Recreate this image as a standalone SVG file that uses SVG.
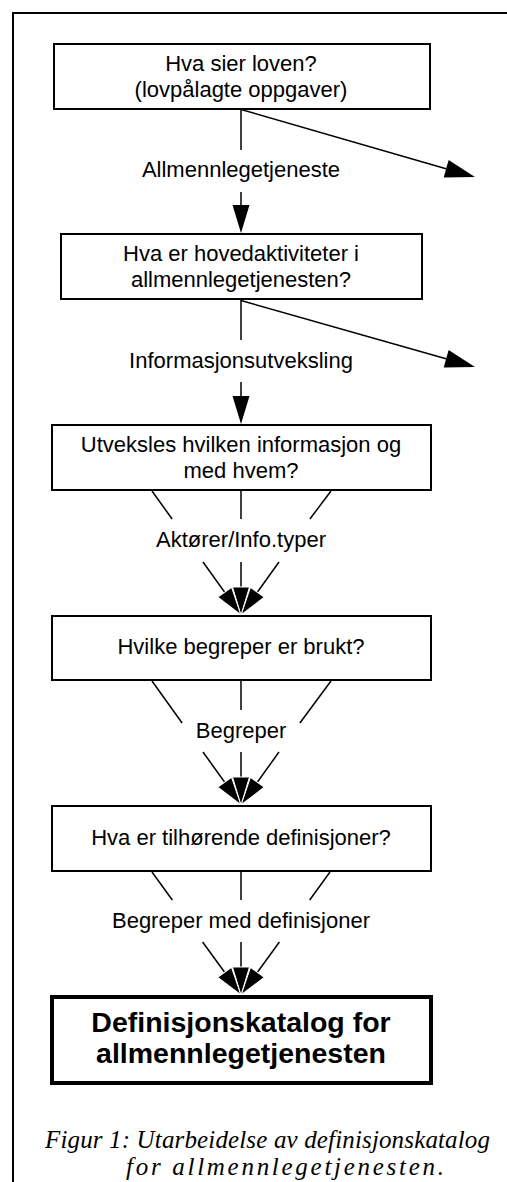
<svg xmlns="http://www.w3.org/2000/svg" xmlns:xlink="http://www.w3.org/1999/xlink" width="507" height="1182" viewBox="0 0 507 1182">
  <style>
    .box { fill: #fff; stroke: #000; stroke-width: 2; }
    .box-final { fill: #fff; stroke: #000; stroke-width: 4; }
    .t { font-family: "Liberation Sans", Arial, Helvetica, sans-serif; font-size: 22px; fill: #000; text-anchor: middle; }
    .tb { font-family: "Liberation Sans", Arial, Helvetica, sans-serif; font-size: 28.5px; font-weight: bold; fill: #000; text-anchor: middle; }
    .cap { font-family: "Liberation Serif", "Times New Roman", serif; font-size: 25px; font-style: italic; fill: #000; }
    .ln { stroke: #000; stroke-width: 1.5; fill: none; }
    .frame { stroke: #000; stroke-width: 2; fill: none; }
    .head { fill: #000; }
    .head-w { fill: #000; stroke: #fff; stroke-width: 1; stroke-linejoin: miter; }
  </style>
  <defs>
    <!-- arrowhead with its tip at the origin, pointing down -->
    <path id="ah" d="M0,0 L-8.5,-28 L8.5,-28 Z"/>
    <path id="ahl" d="M0,0 L-9,-30 L9,-30 Z"/>
  </defs>

  <!-- outer frame, open to the right and bottom -->
  <path class="frame" d="M13,1182 V13 H507"/>

  <!-- connectors -->
  <g id="connectors">
    <!-- step 1 -> 2 -->
    <line class="ln" x1="241" y1="109" x2="241" y2="150"/>
    <line class="ln" x1="241" y1="192" x2="241" y2="206"/>
    <use xlink:href="#ah" class="head" transform="translate(241,233)"/>
    <line class="ln" x1="241" y1="109.5" x2="446" y2="168.7"/>
    <use xlink:href="#ahl" class="head" transform="translate(475,177) rotate(-74.02)"/>

    <!-- step 2 -> 3 -->
    <line class="ln" x1="241" y1="300" x2="241" y2="340"/>
    <line class="ln" x1="241" y1="382" x2="241" y2="397"/>
    <use xlink:href="#ah" class="head" transform="translate(241,424)"/>
    <line class="ln" x1="241" y1="300.5" x2="446" y2="358.7"/>
    <use xlink:href="#ahl" class="head" transform="translate(475,367) rotate(-74.02)"/>

    <!-- step 3 -> 4 (fan) -->
    <line class="ln" x1="152" y1="491" x2="172.1" y2="519"/>
    <line class="ln" x1="241" y1="491" x2="241" y2="519"/>
    <line class="ln" x1="331" y1="491" x2="309.9" y2="519"/>
    <line class="ln" x1="203" y1="562" x2="224.7" y2="592.3"/>
    <line class="ln" x1="241" y1="562" x2="241" y2="588"/>
    <line class="ln" x1="279" y1="562" x2="257.3" y2="592.3"/>
    <use xlink:href="#ah" class="head-w" transform="translate(241,615) rotate(-35.67)"/>
    <use xlink:href="#ah" class="head-w" transform="translate(241,615) rotate(35.67)"/>
    <use xlink:href="#ah" class="head-w" transform="translate(241,615)"/>

    <!-- step 4 -> 5 (fan) -->
    <line class="ln" x1="152" y1="681" x2="182.1" y2="723"/>
    <line class="ln" x1="241" y1="681" x2="241" y2="710"/>
    <line class="ln" x1="331" y1="681" x2="299.9" y2="723"/>
    <line class="ln" x1="203" y1="752" x2="224.7" y2="782.3"/>
    <line class="ln" x1="241" y1="752" x2="241" y2="778"/>
    <line class="ln" x1="279" y1="752" x2="257.3" y2="782.3"/>
    <use xlink:href="#ah" class="head-w" transform="translate(241,805) rotate(-35.67)"/>
    <use xlink:href="#ah" class="head-w" transform="translate(241,805) rotate(35.67)"/>
    <use xlink:href="#ah" class="head-w" transform="translate(241,805)"/>

    <!-- step 5 -> 6 (fan) -->
    <line class="ln" x1="152" y1="872" x2="172.3" y2="900"/>
    <line class="ln" x1="241" y1="872" x2="241" y2="900"/>
    <line class="ln" x1="330" y1="872" x2="309.7" y2="900"/>
    <line class="ln" x1="202.6" y1="942" x2="224.6" y2="972.3"/>
    <line class="ln" x1="241" y1="942" x2="241" y2="968"/>
    <line class="ln" x1="279.4" y1="942" x2="257.4" y2="972.3"/>
    <use xlink:href="#ah" class="head-w" transform="translate(241,995) rotate(-35.9)"/>
    <use xlink:href="#ah" class="head-w" transform="translate(241,995) rotate(35.9)"/>
    <use xlink:href="#ah" class="head-w" transform="translate(241,995)"/>

    <!-- connector labels -->
    <text class="t" x="241" y="177">Allmennlegetjeneste</text>
    <text class="t" x="241" y="368">Informasjonsutveksling</text>
    <text class="t" x="241" y="547">Aktører/Info.typer</text>
    <text class="t" x="241" y="738">Begreper</text>
    <text class="t" x="241" y="928">Begreper med definisjoner</text>
  </g>

  <!-- steps -->
  <g id="step-lov">
    <rect class="box" x="54" y="44" width="376" height="65"/>
    <text class="t" x="241" y="70.5">Hva sier loven?</text>
    <text class="t" x="241" y="96.5">(lovpålagte oppgaver)</text>
  </g>

  <g id="step-aktiviteter">
    <rect class="box" x="61" y="234" width="361" height="65"/>
    <text class="t" x="241" y="260.5">Hva er hovedaktiviteter i</text>
    <text class="t" x="241" y="286.5">allmennlegetjenesten?</text>
  </g>

  <g id="step-informasjon">
    <rect class="box" x="52" y="425" width="379" height="65"/>
    <text class="t" x="241" y="451.5">Utveksles hvilken informasjon og</text>
    <text class="t" x="241" y="477.5">med hvem?</text>
  </g>

  <g id="step-begreper">
    <rect class="box" x="52" y="616" width="379" height="64"/>
    <text class="t" x="241" y="654">Hvilke begreper er brukt?</text>
  </g>

  <g id="step-definisjoner">
    <rect class="box" x="52" y="806" width="379" height="65"/>
    <text class="t" x="241" y="845">Hva er tilhørende definisjoner?</text>
  </g>

  <g id="katalog">
    <rect class="box-final" x="52" y="997" width="379" height="86"/>
    <text class="tb" x="241" y="1032">Definisjonskatalog for</text>
    <text class="tb" x="241" y="1063">allmennlegetjenesten</text>
  </g>

  <!-- caption -->
  <g id="caption">
    <text class="cap" x="45" y="1148" textLength="445" lengthAdjust="spacing">Figur 1: Utarbeidelse av definisjonskatalog</text>
    <text class="cap" x="126" y="1175" textLength="318" lengthAdjust="spacing">for allmennlegetjenesten.</text>
  </g>
</svg>
